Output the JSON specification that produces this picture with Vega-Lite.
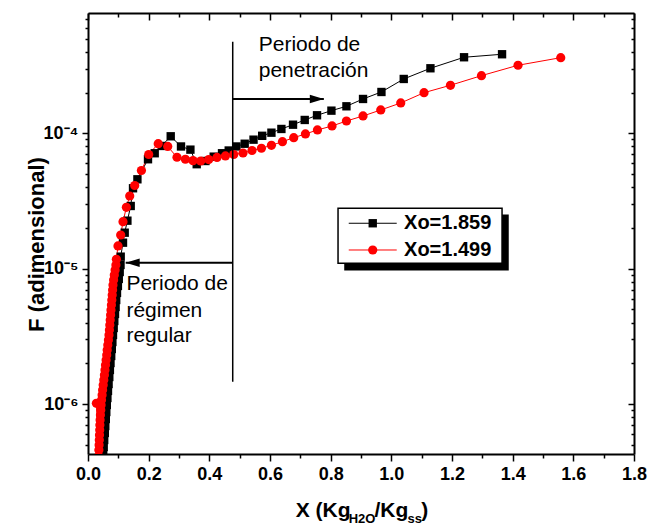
{
  "$schema": "https://vega.github.io/schema/vega-lite/v6.json",
  "width": 546,
  "height": 441,
  "autosize": "none",
  "padding": {"left": 88, "top": 13, "right": 15, "bottom": 73},
  "background": "white",
  "config": {
    "view": {"stroke": null},
    "font": "Liberation Sans",
    "axis": {
      "grid": false,
      "domainColor": "black",
      "domainWidth": 2,
      "tickColor": "black",
      "tickWidth": 1.5,
      "labelColor": "black",
      "labelFont": "Liberation Sans",
      "labelFontWeight": "bold",
      "titleColor": "black",
      "titleFont": "Liberation Sans",
      "titleFontWeight": "bold",
      "labelFlush": false,
      "labelOverlap": false
    }
  },
  "datasets": {
    "curves": [
      {"s": "Xo=1.859", "x": 0.049, "y": 3.87e-7},
      {"s": "Xo=1.859", "x": 0.0501, "y": 4.28e-7},
      {"s": "Xo=1.859", "x": 0.0518, "y": 4.82e-7},
      {"s": "Xo=1.859", "x": 0.0534, "y": 5.43e-7},
      {"s": "Xo=1.859", "x": 0.0554, "y": 6.12e-7},
      {"s": "Xo=1.859", "x": 0.057, "y": 6.89e-7},
      {"s": "Xo=1.859", "x": 0.0587, "y": 7.76e-7},
      {"s": "Xo=1.859", "x": 0.0603, "y": 8.74e-7},
      {"s": "Xo=1.859", "x": 0.062, "y": 9.85e-7},
      {"s": "Xo=1.859", "x": 0.064, "y": 1.109e-6},
      {"s": "Xo=1.859", "x": 0.0659, "y": 1.25e-6},
      {"s": "Xo=1.859", "x": 0.0679, "y": 1.407e-6},
      {"s": "Xo=1.859", "x": 0.0702, "y": 1.585e-6},
      {"s": "Xo=1.859", "x": 0.0722, "y": 1.786e-6},
      {"s": "Xo=1.859", "x": 0.0742, "y": 2.011e-6},
      {"s": "Xo=1.859", "x": 0.0765, "y": 2.266e-6},
      {"s": "Xo=1.859", "x": 0.0785, "y": 2.552e-6},
      {"s": "Xo=1.859", "x": 0.0804, "y": 2.875e-6},
      {"s": "Xo=1.859", "x": 0.0824, "y": 3.239e-6},
      {"s": "Xo=1.859", "x": 0.0847, "y": 3.648e-6},
      {"s": "Xo=1.859", "x": 0.0867, "y": 4.11e-6},
      {"s": "Xo=1.859", "x": 0.089, "y": 4.63e-6},
      {"s": "Xo=1.859", "x": 0.091, "y": 5.215e-6},
      {"s": "Xo=1.859", "x": 0.093, "y": 5.87e-6},
      {"s": "Xo=1.859", "x": 0.0956, "y": 6.62e-6},
      {"s": "Xo=1.859", "x": 0.0986, "y": 7.45e-6},
      {"s": "Xo=1.859", "x": 0.1015, "y": 8.4e-6},
      {"s": "Xo=1.859", "x": 0.1045, "y": 9.45e-6},
      {"s": "Xo=1.859", "x": 0.1072, "y": 1.065e-5},
      {"s": "Xo=1.859", "x": 0.1078, "y": 1.227e-5},
      {"s": "Xo=1.859", "x": 0.1154, "y": 1.556e-5},
      {"s": "Xo=1.859", "x": 0.121, "y": 1.844e-5},
      {"s": "Xo=1.859", "x": 0.1299, "y": 2.262e-5},
      {"s": "Xo=1.859", "x": 0.1408, "y": 2.904e-5},
      {"s": "Xo=1.859", "x": 0.1484, "y": 3.925e-5},
      {"s": "Xo=1.859", "x": 0.1629, "y": 4.572e-5},
      {"s": "Xo=1.859", "x": 0.1978, "y": 6.43e-5},
      {"s": "Xo=1.859", "x": 0.2199, "y": 7.12e-5},
      {"s": "Xo=1.859", "x": 0.243, "y": 8.06e-5},
      {"s": "Xo=1.859", "x": 0.2727, "y": 9.5e-5},
      {"s": "Xo=1.859", "x": 0.3066, "y": 7.99e-5},
      {"s": "Xo=1.859", "x": 0.3376, "y": 7.57e-5},
      {"s": "Xo=1.859", "x": 0.3584, "y": 5.91e-5},
      {"s": "Xo=1.859", "x": 0.3871, "y": 6.24e-5},
      {"s": "Xo=1.859", "x": 0.4144, "y": 6.72e-5},
      {"s": "Xo=1.859", "x": 0.4418, "y": 7.12e-5},
      {"s": "Xo=1.859", "x": 0.4639, "y": 7.46e-5},
      {"s": "Xo=1.859", "x": 0.4893, "y": 7.99e-5},
      {"s": "Xo=1.859", "x": 0.5166, "y": 8.37e-5},
      {"s": "Xo=1.859", "x": 0.5457, "y": 8.97e-5},
      {"s": "Xo=1.859", "x": 0.5743, "y": 9.58e-5},
      {"s": "Xo=1.859", "x": 0.6047, "y": 1.01e-4},
      {"s": "Xo=1.859", "x": 0.6376, "y": 1.076e-4},
      {"s": "Xo=1.859", "x": 0.6759, "y": 1.157e-4},
      {"s": "Xo=1.859", "x": 0.7145, "y": 1.254e-4},
      {"s": "Xo=1.859", "x": 0.755, "y": 1.358e-4},
      {"s": "Xo=1.859", "x": 0.8025, "y": 1.469e-4},
      {"s": "Xo=1.859", "x": 0.852, "y": 1.582e-4},
      {"s": "Xo=1.859", "x": 0.9067, "y": 1.792e-4},
      {"s": "Xo=1.859", "x": 0.9674, "y": 2.018e-4},
      {"s": "Xo=1.859", "x": 1.0409, "y": 2.518e-4},
      {"s": "Xo=1.859", "x": 1.1289, "y": 3.02e-4},
      {"s": "Xo=1.859", "x": 1.2397, "y": 3.642e-4},
      {"s": "Xo=1.859", "x": 1.365, "y": 3.833e-4},
      {"s": "Xo=1.499", "x": 0.0349, "y": 4.14e-7},
      {"s": "Xo=1.499", "x": 0.0359, "y": 4.58e-7},
      {"s": "Xo=1.499", "x": 0.0366, "y": 4.99e-7},
      {"s": "Xo=1.499", "x": 0.0373, "y": 5.43e-7},
      {"s": "Xo=1.499", "x": 0.0379, "y": 5.91e-7},
      {"s": "Xo=1.499", "x": 0.0386, "y": 6.44e-7},
      {"s": "Xo=1.499", "x": 0.0392, "y": 7.01e-7},
      {"s": "Xo=1.499", "x": 0.0399, "y": 7.63e-7},
      {"s": "Xo=1.499", "x": 0.0409, "y": 8.31e-7},
      {"s": "Xo=1.499", "x": 0.0422, "y": 9.05e-7},
      {"s": "Xo=1.499", "x": 0.0432, "y": 9.85e-7},
      {"s": "Xo=1.499", "x": 0.0277, "y": 1.014e-6},
      {"s": "Xo=1.499", "x": 0.0445, "y": 1.072e-6},
      {"s": "Xo=1.499", "x": 0.0465, "y": 1.167e-6},
      {"s": "Xo=1.499", "x": 0.0481, "y": 1.271e-6},
      {"s": "Xo=1.499", "x": 0.0501, "y": 1.384e-6},
      {"s": "Xo=1.499", "x": 0.0521, "y": 1.507e-6},
      {"s": "Xo=1.499", "x": 0.0541, "y": 1.64e-6},
      {"s": "Xo=1.499", "x": 0.056, "y": 1.786e-6},
      {"s": "Xo=1.499", "x": 0.0577, "y": 1.944e-6},
      {"s": "Xo=1.499", "x": 0.0597, "y": 2.117e-6},
      {"s": "Xo=1.499", "x": 0.0617, "y": 2.305e-6},
      {"s": "Xo=1.499", "x": 0.0633, "y": 2.51e-6},
      {"s": "Xo=1.499", "x": 0.0653, "y": 2.732e-6},
      {"s": "Xo=1.499", "x": 0.0673, "y": 2.975e-6},
      {"s": "Xo=1.499", "x": 0.0692, "y": 3.239e-6},
      {"s": "Xo=1.499", "x": 0.0706, "y": 3.527e-6},
      {"s": "Xo=1.499", "x": 0.0719, "y": 3.839e-6},
      {"s": "Xo=1.499", "x": 0.0732, "y": 4.18e-6},
      {"s": "Xo=1.499", "x": 0.0745, "y": 4.55e-6},
      {"s": "Xo=1.499", "x": 0.0758, "y": 4.955e-6},
      {"s": "Xo=1.499", "x": 0.0772, "y": 5.395e-6},
      {"s": "Xo=1.499", "x": 0.0785, "y": 5.874e-6},
      {"s": "Xo=1.499", "x": 0.0798, "y": 6.39e-6},
      {"s": "Xo=1.499", "x": 0.0811, "y": 6.96e-6},
      {"s": "Xo=1.499", "x": 0.0824, "y": 7.58e-6},
      {"s": "Xo=1.499", "x": 0.0844, "y": 8.25e-6},
      {"s": "Xo=1.499", "x": 0.0867, "y": 8.99e-6},
      {"s": "Xo=1.499", "x": 0.0894, "y": 9.78e-6},
      {"s": "Xo=1.499", "x": 0.092, "y": 1.065e-5},
      {"s": "Xo=1.499", "x": 0.0936, "y": 1.173e-5},
      {"s": "Xo=1.499", "x": 0.0989, "y": 1.471e-5},
      {"s": "Xo=1.499", "x": 0.1078, "y": 1.773e-5},
      {"s": "Xo=1.499", "x": 0.1154, "y": 2.224e-5},
      {"s": "Xo=1.499", "x": 0.1266, "y": 2.841e-5},
      {"s": "Xo=1.499", "x": 0.1375, "y": 3.442e-5},
      {"s": "Xo=1.499", "x": 0.154, "y": 4.115e-5},
      {"s": "Xo=1.499", "x": 0.1761, "y": 5.31e-5},
      {"s": "Xo=1.499", "x": 0.2001, "y": 6.97e-5},
      {"s": "Xo=1.499", "x": 0.2315, "y": 8.38e-5},
      {"s": "Xo=1.499", "x": 0.2628, "y": 7.99e-5},
      {"s": "Xo=1.499", "x": 0.2934, "y": 6.65e-5},
      {"s": "Xo=1.499", "x": 0.3211, "y": 6.43e-5},
      {"s": "Xo=1.499", "x": 0.3462, "y": 6.28e-5},
      {"s": "Xo=1.499", "x": 0.3716, "y": 6.24e-5},
      {"s": "Xo=1.499", "x": 0.398, "y": 6.4e-5},
      {"s": "Xo=1.499", "x": 0.4253, "y": 6.63e-5},
      {"s": "Xo=1.499", "x": 0.453, "y": 6.8e-5},
      {"s": "Xo=1.499", "x": 0.4804, "y": 6.97e-5},
      {"s": "Xo=1.499", "x": 0.511, "y": 7.15e-5},
      {"s": "Xo=1.499", "x": 0.5407, "y": 7.46e-5},
      {"s": "Xo=1.499", "x": 0.5717, "y": 7.75e-5},
      {"s": "Xo=1.499", "x": 0.6047, "y": 8.15e-5},
      {"s": "Xo=1.499", "x": 0.641, "y": 8.67e-5},
      {"s": "Xo=1.499", "x": 0.6782, "y": 9.28e-5},
      {"s": "Xo=1.499", "x": 0.7168, "y": 9.88e-5},
      {"s": "Xo=1.499", "x": 0.7564, "y": 1.058e-4},
      {"s": "Xo=1.499", "x": 0.8045, "y": 1.132e-4},
      {"s": "Xo=1.499", "x": 0.852, "y": 1.232e-4},
      {"s": "Xo=1.499", "x": 0.9067, "y": 1.342e-4},
      {"s": "Xo=1.499", "x": 0.9651, "y": 1.486e-4},
      {"s": "Xo=1.499", "x": 1.031, "y": 1.674e-4},
      {"s": "Xo=1.499", "x": 1.1078, "y": 1.994e-4},
      {"s": "Xo=1.499", "x": 1.1949, "y": 2.262e-4},
      {"s": "Xo=1.499", "x": 1.2971, "y": 2.664e-4},
      {"s": "Xo=1.499", "x": 1.4177, "y": 3.179e-4},
      {"s": "Xo=1.499", "x": 1.5585, "y": 3.617e-4}
    ],
    "divider": [{"x": 0.4771, "y": 1.463e-6, "y2": 4.746e-4}],
    "arrows": [
      {"dir": "right", "x": 0.4771, "x2": 0.7775, "y": 1.792e-4},
      {"dir": "left", "x": 0.4771, "x2": 0.1243, "y": 1.107e-5}
    ],
    "notes": [
      {"t": "Periodo de", "x": 0.5628, "y": 4.074e-4},
      {"t": "penetración", "x": 0.5628, "y": 2.604e-4},
      {"t": "Periodo de", "x": 0.1266, "y": 6.964e-6},
      {"t": "régimen", "x": 0.1266, "y": 4.42e-6},
      {"t": "regular", "x": 0.1266, "y": 2.889e-6}
    ],
    "legendBox": [
      {"k": "shadow", "x": 0.8447, "x2": 1.3871, "y": 2.514e-5, "y2": 9.7e-6},
      {"k": "box", "x": 0.8243, "x2": 1.365, "y": 2.793e-5, "y2": 1.096e-5}
    ],
    "legendItems": [
      {"s": "Xo=1.859", "x": 0.8596, "x2": 1.0178, "xs": 0.9387, "xt": 1.0419, "y": 2.165e-5},
      {"s": "Xo=1.499", "x": 0.8596, "x2": 1.0178, "xs": 0.9387, "xt": 1.0419, "y": 1.374e-5}
    ],
    "xTitle": [
      {"t": "X (Kg", "k": "main", "x": 0.6848, "y": 1.466e-7},
      {"t": "H2O", "k": "sub", "x": 0.8595, "y": 1.324e-7},
      {"t": "/Kg", "k": "main", "x": 0.9445, "y": 1.466e-7},
      {"t": "ss", "k": "sub", "x": 1.0535, "y": 1.324e-7},
      {"t": ")", "k": "main", "x": 1.0985, "y": 1.466e-7}
    ]
  },
  "resolve": {"axis": {"x": "independent", "y": "independent"}},
  "layer": [
    {
      "data": {"name": "curves"},
      "mark": {"type": "line", "strokeWidth": 1, "clip": true},
      "encoding": {
        "x": {
          "field": "x", "type": "quantitative",
          "scale": {"domain": [0, 1.8], "nice": false, "zero": false},
          "axis": {
            "orient": "bottom",
            "title": null,
            "values": [0, 0.1, 0.2, 0.3, 0.4, 0.5, 0.6, 0.7, 0.8, 0.9, 1.0, 1.1, 1.2, 1.3, 1.4, 1.5, 1.6, 1.7, 1.8],
            "labelExpr": "round(datum.value*10) % 2 == 0 ? format(datum.value, '.1f') : ''",
            "tickSize": {"condition": {"test": "round(datum.value*10) % 2 == 0", "value": 7}, "value": 4},
            "labelFontSize": 18,
            "labelPadding": 4
          }
        },
        "y": {
          "field": "y", "type": "quantitative",
          "scale": {"type": "log", "domain": [4.28e-7, 7.73e-4], "nice": false},
          "axis": {
            "orient": "left",
            "values": [5e-7, 6e-7, 7e-7, 8e-7, 9e-7, 1e-6, 2e-6, 3e-6, 4e-6, 5e-6, 6e-6, 7e-6, 8e-6, 9e-6, 1e-5, 2e-5, 3e-5, 4e-5, 5e-5, 6e-5, 7e-5, 8e-5, 9e-5, 1e-4, 2e-4, 3e-4, 4e-4, 5e-4, 6e-4, 7e-4],
            "labelExpr": "abs(datum.value/1e-4-1) < 1e-6 ? '10⁻⁴' : abs(datum.value/1e-5-1) < 1e-6 ? '10⁻⁵' : abs(datum.value/1e-6-1) < 1e-6 ? '10⁻⁶' : ''",
            "tickSize": {"condition": {"test": "abs(log(datum.value)/LN10 - round(log(datum.value)/LN10)) < 1e-6", "value": 6}, "value": 3},
            "labelFontSize": 18,
            "labelPadding": 4,
            "title": "F (adimensional)",
            "titleFontSize": 22,
            "titleAngle": -90,
            "titleX": -45,
            "titleY": 231,
            "titleAlign": "center",
            "titleBaseline": "alphabetic"
          }
        },
        "color": {
          "field": "s", "type": "nominal", "legend": null,
          "scale": {"domain": ["Xo=1.859", "Xo=1.499"], "range": ["#000000", "#ff0000"]}
        }
      }
    },
    {
      "data": {"name": "curves"},
      "transform": [{"filter": "datum.s == 'Xo=1.859'"}],
      "mark": {"type": "point", "shape": "square", "filled": true, "size": 70, "color": "#000000", "opacity": 1, "clip": true},
      "encoding": {
        "x": {"field": "x", "type": "quantitative", "axis": null},
        "y": {"field": "y", "type": "quantitative", "axis": null}
      }
    },
    {
      "data": {"name": "curves"},
      "transform": [{"filter": "datum.s == 'Xo=1.499'"}],
      "mark": {"type": "point", "shape": "circle", "filled": true, "size": 85, "color": "#ff0000", "opacity": 1, "clip": true},
      "encoding": {
        "x": {"field": "x", "type": "quantitative", "axis": null},
        "y": {"field": "y", "type": "quantitative", "axis": null}
      }
    },
    {
      "data": {"name": "divider"},
      "mark": {"type": "rule", "color": "#000000", "strokeWidth": 1.5},
      "encoding": {
        "x": {
          "field": "x", "type": "quantitative",
          "scale": {"domain": [0, 1.8], "nice": false, "zero": false},
          "axis": {
            "orient": "top",
            "title": null,
            "labels": false,
            "values": [0, 0.1, 0.2, 0.3, 0.4, 0.5, 0.6, 0.7, 0.8, 0.9, 1.0, 1.1, 1.2, 1.3, 1.4, 1.5, 1.6, 1.7, 1.8],
            "tickSize": {"condition": {"test": "round(datum.value*10) % 2 == 0", "value": -7}, "value": -4}
          }
        },
        "y": {
          "field": "y", "type": "quantitative",
          "scale": {"type": "log", "domain": [4.28e-7, 7.73e-4], "nice": false},
          "axis": {
            "orient": "right",
            "title": null,
            "labels": false,
            "values": [5e-7, 6e-7, 7e-7, 8e-7, 9e-7, 1e-6, 2e-6, 3e-6, 4e-6, 5e-6, 6e-6, 7e-6, 8e-6, 9e-6, 1e-5, 2e-5, 3e-5, 4e-5, 5e-5, 6e-5, 7e-5, 8e-5, 9e-5, 1e-4, 2e-4, 3e-4, 4e-4, 5e-4, 6e-4, 7e-4],
            "tickSize": {"condition": {"test": "abs(log(datum.value)/LN10 - round(log(datum.value)/LN10)) < 1e-6", "value": -6}, "value": -3}
          }
        },
        "y2": {"field": "y2"}
      }
    },
    {
      "data": {"name": "arrows"},
      "mark": {"type": "rule", "color": "#000000", "strokeWidth": 2},
      "encoding": {
        "x": {"field": "x", "type": "quantitative", "axis": null},
        "x2": {"field": "x2"},
        "y": {"field": "y", "type": "quantitative", "axis": null}
      }
    },
    {
      "data": {"name": "arrows"},
      "transform": [{"filter": "datum.dir == 'right'"}],
      "mark": {"type": "point", "shape": "M-2,-0.6L0,0L-2,0.6Z", "filled": true, "size": 196, "color": "#000000", "opacity": 1},
      "encoding": {
        "x": {"field": "x2", "type": "quantitative", "axis": null},
        "y": {"field": "y", "type": "quantitative", "axis": null}
      }
    },
    {
      "data": {"name": "arrows"},
      "transform": [{"filter": "datum.dir == 'left'"}],
      "mark": {"type": "point", "shape": "M2,-0.6L0,0L2,0.6Z", "filled": true, "size": 196, "color": "#000000", "opacity": 1},
      "encoding": {
        "x": {"field": "x2", "type": "quantitative", "axis": null},
        "y": {"field": "y", "type": "quantitative", "axis": null}
      }
    },
    {
      "data": {"name": "notes"},
      "mark": {"type": "text", "align": "left", "baseline": "alphabetic", "fontSize": 21, "font": "Liberation Sans", "color": "#000000"},
      "encoding": {
        "x": {"field": "x", "type": "quantitative", "axis": null},
        "y": {"field": "y", "type": "quantitative", "axis": null},
        "text": {"field": "t"}
      }
    },
    {
      "data": {"name": "legendBox"},
      "transform": [{"filter": "datum.k == 'shadow'"}],
      "mark": {"type": "rect", "color": "#000000"},
      "encoding": {
        "x": {"field": "x", "type": "quantitative", "axis": null},
        "x2": {"field": "x2"},
        "y": {"field": "y", "type": "quantitative", "axis": null},
        "y2": {"field": "y2"}
      }
    },
    {
      "data": {"name": "legendBox"},
      "transform": [{"filter": "datum.k == 'box'"}],
      "mark": {"type": "rect", "fill": "#ffffff", "stroke": "#000000", "strokeWidth": 1.5},
      "encoding": {
        "x": {"field": "x", "type": "quantitative", "axis": null},
        "x2": {"field": "x2"},
        "y": {"field": "y", "type": "quantitative", "axis": null},
        "y2": {"field": "y2"}
      }
    },
    {
      "data": {"name": "legendItems"},
      "mark": {"type": "rule", "strokeWidth": 1},
      "encoding": {
        "x": {"field": "x", "type": "quantitative", "axis": null},
        "x2": {"field": "x2"},
        "y": {"field": "y", "type": "quantitative", "axis": null},
        "color": {"field": "s", "type": "nominal", "legend": null}
      }
    },
    {
      "data": {"name": "legendItems"},
      "transform": [{"filter": "datum.s == 'Xo=1.859'"}],
      "mark": {"type": "point", "shape": "square", "filled": true, "size": 70, "color": "#000000", "opacity": 1},
      "encoding": {
        "x": {"field": "xs", "type": "quantitative", "axis": null},
        "y": {"field": "y", "type": "quantitative", "axis": null}
      }
    },
    {
      "data": {"name": "legendItems"},
      "transform": [{"filter": "datum.s == 'Xo=1.499'"}],
      "mark": {"type": "point", "shape": "circle", "filled": true, "size": 85, "color": "#ff0000", "opacity": 1},
      "encoding": {
        "x": {"field": "xs", "type": "quantitative", "axis": null},
        "y": {"field": "y", "type": "quantitative", "axis": null}
      }
    },
    {
      "data": {"name": "legendItems"},
      "mark": {"type": "text", "align": "left", "baseline": "middle", "fontSize": 20, "fontWeight": "bold", "font": "Liberation Sans", "color": "#000000"},
      "encoding": {
        "x": {"field": "xt", "type": "quantitative", "axis": null},
        "y": {"field": "y", "type": "quantitative", "axis": null},
        "text": {"field": "s"}
      }
    },
    {
      "data": {"name": "xTitle"},
      "transform": [{"filter": "datum.k == 'main'"}],
      "mark": {"type": "text", "align": "left", "baseline": "alphabetic", "fontSize": 21, "fontWeight": "bold", "font": "Liberation Sans", "color": "#000000"},
      "encoding": {
        "x": {"field": "x", "type": "quantitative", "axis": null},
        "y": {"field": "y", "type": "quantitative", "axis": null},
        "text": {"field": "t"}
      }
    },
    {
      "data": {"name": "xTitle"},
      "transform": [{"filter": "datum.k == 'sub'"}],
      "mark": {"type": "text", "align": "left", "baseline": "alphabetic", "fontSize": 13, "fontWeight": "bold", "font": "Liberation Sans", "color": "#000000"},
      "encoding": {
        "x": {"field": "x", "type": "quantitative", "axis": null},
        "y": {"field": "y", "type": "quantitative", "axis": null},
        "text": {"field": "t"}
      }
    }
  ]
}
